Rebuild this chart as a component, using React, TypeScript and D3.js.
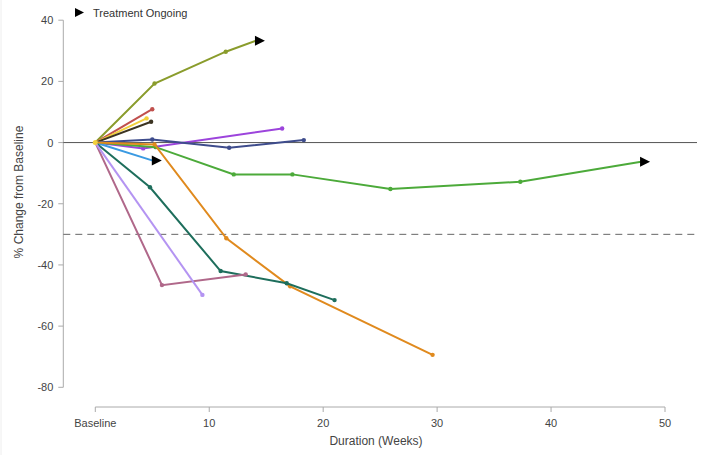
import React from "react";
import * as d3 from "d3";

const xTickValues = [0, 10, 20, 30, 40, 50];
const xTickLabels = ["Baseline", "10", "20", "30", "40", "50"];
const yTickValues = [40, 20, 0, -20, -40, -60, -80];

const seriesIds = ["s1", "s2", "s3", "s4", "s5", "s6", "s7", "s8", "s9", "s10", "s11", "s12"];
const seriesColors = ["#8a9c2c", "#c0504d", "#f2d03c", "#3c3422", "#9c44dc", "#3e4c8c", "#4caa3a", "#3a9ae2", "#e08a1e", "#1e6e5c", "#b0688a", "#b494f2"];
const seriesOngoing = [true, false, false, false, false, false, true, true, false, false, false, false];

const s1Weeks = [0, 5.2, 11.45, 14.1];
const s1Pct = [0, 19.3, 29.7, 33.3];
const s2Weeks = [0, 5.0];
const s2Pct = [0, 10.9];
const s3Weeks = [0, 4.5];
const s3Pct = [0, 7.9];
const s4Weeks = [0, 4.9];
const s4Pct = [0, 6.8];
const s5Weeks = [0, 4.2, 16.4];
const s5Pct = [0, -1.9, 4.6];
const s6Weeks = [0, 5.0, 11.75, 18.3];
const s6Pct = [0, 1.0, -1.7, 0.8];
const s7Weeks = [0, 5.3, 12.15, 17.3, 25.9, 37.3, 47.9];
const s7Pct = [0, -1.5, -10.4, -10.4, -15.2, -12.8, -6.3];
const s8Weeks = [0, 5.05];
const s8Pct = [0, -5.9];
const s9Weeks = [0, 5.2, 11.5, 17.1, 29.6];
const s9Pct = [0, -0.6, -31.3, -47.0, -69.4];
const s10Weeks = [0, 4.8, 11.0, 16.8, 21.0];
const s10Pct = [0, -14.6, -42.0, -46.0, -51.5];
const s11Weeks = [0, 5.85, 13.2];
const s11Pct = [0, -46.6, -43.1];
const s12Weeks = [0, 9.4];
const s12Pct = [0, -49.8];

const allWeeks = [s1Weeks, s2Weeks, s3Weeks, s4Weeks, s5Weeks, s6Weeks, s7Weeks, s8Weeks, s9Weeks, s10Weeks, s11Weeks, s12Weeks];
const allPct = [s1Pct, s2Pct, s3Pct, s4Pct, s5Pct, s6Pct, s7Pct, s8Pct, s9Pct, s10Pct, s11Pct, s12Pct];

const refLineSolid = 0;
const refLineDashed = -30;

const W = 701;
const H = 455;
const font = "'Liberation Sans', Arial, sans-serif";

export default function App() {
  const x = d3.scaleLinear().domain([0, 50]).range([95.3, 665]);
  const y = d3.scaleLinear().domain([-80, 40]).range([387.3, 20.2]);
  const line = d3
    .line<[number, number]>()
    .x((d) => x(d[0]))
    .y((d) => y(d[1]));

  const series = seriesIds.map((id, i) => ({
    id,
    color: seriesColors[i],
    ongoing: seriesOngoing[i],
    pts: allWeeks[i].map((w, j) => [w, allPct[i][j]] as [number, number]),
  }));

  const axisColor = "#aaaaaa";
  const textColor = "#444444";
  const yAxisX = 63.3;
  const xAxisY = 407;

  return (
    <svg width={W} height={H} style={{ position: "absolute", left: 0, top: 0, background: "#fff" }} fontFamily={font}>
      <rect x={0} y={0} width={W} height={H} fill="#fff" />
      <line x1={1} x2={1} y1={0} y2={H} stroke="#eeeeee" />
      {/* Legend */}
      <path d="M75,8 L84,12.5 L75,17 Z" fill="#000" />
      <text x={93} y={16.5} fontSize={11} fill="#333">Treatment Ongoing</text>

      {/* Y axis */}
      <line x1={yAxisX} x2={yAxisX} y1={y(40)} y2={y(-80)} stroke={axisColor} />
      {yTickValues.map((v) => (
        <g key={v}>
          <line x1={yAxisX - 5} x2={yAxisX} y1={y(v)} y2={y(v)} stroke={axisColor} />
          <text x={yAxisX - 10} y={y(v) + 4} fontSize={11} fill={textColor} textAnchor="end">
            {v}
          </text>
        </g>
      ))}
      <text
        transform={`translate(23,${192}) rotate(-90)`}
        fontSize={12}
        fill={textColor}
        textAnchor="middle"
      >
        % Change from Baseline
      </text>

      {/* X axis */}
      <line x1={x(0)} x2={x(50)} y1={xAxisY} y2={xAxisY} stroke={axisColor} />
      {xTickValues.map((v, i) => (
        <g key={v}>
          <line x1={x(v)} x2={x(v)} y1={xAxisY} y2={xAxisY + 5} stroke={axisColor} />
          <text x={x(v)} y={xAxisY + 20} fontSize={11} fill={textColor} textAnchor="middle">
            {xTickLabels[i]}
          </text>
        </g>
      ))}
      <text x={376} y={445} fontSize={12} fill={textColor} textAnchor="middle">
        Duration (Weeks)
      </text>

      {/* Reference lines */}
      <line x1={yAxisX} x2={697} y1={y(refLineSolid)} y2={y(refLineSolid)} stroke="#555" strokeWidth={1} />
      <line
        x1={yAxisX}
        x2={697}
        y1={y(refLineDashed)}
        y2={y(refLineDashed)}
        stroke="#666"
        strokeWidth={1}
        strokeDasharray="7,5"
      />

      {/* Series */}
      {series.map((s) => (
        <g key={s.id}>
          <path d={line(s.pts) || ""} fill="none" stroke={s.color} strokeWidth={2} />
          {s.pts.slice(1, s.ongoing ? s.pts.length - 1 : s.pts.length).map((p, j) => (
            <circle key={j} cx={x(p[0])} cy={y(p[1])} r={2.2} fill={s.color} />
          ))}
        </g>
      ))}
      {series
        .filter((s) => s.ongoing)
        .map((s) => {
          const p = s.pts[s.pts.length - 1];
          const cx = x(p[0]);
          const cy = y(p[1]);
          return <path key={s.id + "a"} d={`M${cx - 1},${cy - 5} L${cx + 9},${cy} L${cx - 1},${cy + 5} Z`} fill="#000" />;
        })}
      {/* origin marker */}
      <circle cx={x(0)} cy={y(0)} r={2.5} fill="#f2d03c" />
    </svg>
  );
}
